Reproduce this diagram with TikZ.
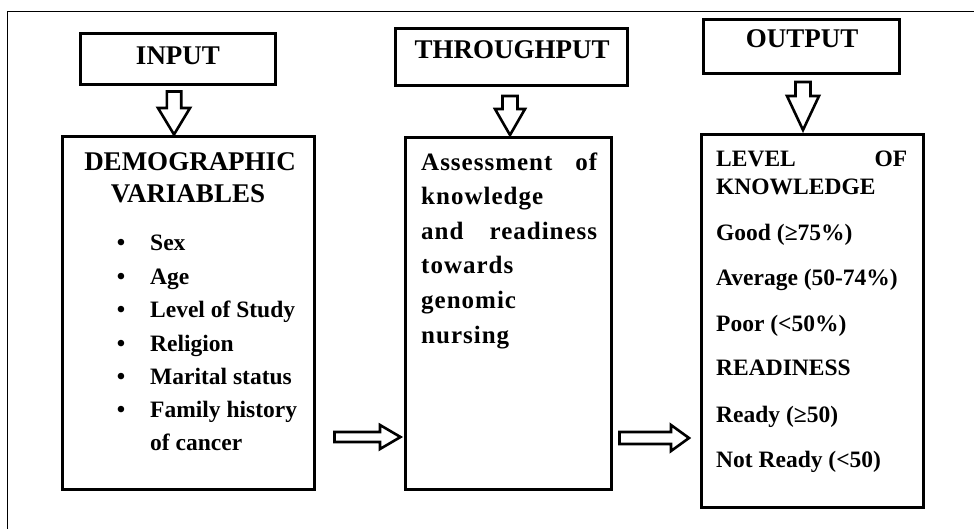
\documentclass[tikz,border=0pt]{standalone}
\usepackage{fontspec}
\setmainfont{Liberation Serif}
\newfontfamily\spacedfont{Liberation Serif}[LetterSpace=4]
\newcommand{\vblockarrow}[6]{% cx, ytop, yhead, ytip, shaft half, head half
  \draw[blockarrow] (#1-#5,#2) -- (#1+#5,#2) -- (#1+#5,#3) -- (#1+#6,#3) -- (#1,#4) -- (#1-#6,#3) -- (#1-#5,#3) -- cycle;}
\newcommand{\hblockarrow}[6]{% cy, xleft, xhead, xtip, shaft half, head half
  \draw[blockarrow] (#2,#1-#5) -- (#3,#1-#5) -- (#3,#1-#6) -- (#4,#1) -- (#3,#1+#6) -- (#3,#1+#5) -- (#2,#1+#5) -- cycle;}
\begin{document}
\begin{tikzpicture}[x=1pt,y=-1pt,
  box/.style={draw, line width=2.6pt, inner sep=0pt},
  headtxt/.style={inner sep=0pt, font=\fontsize{27}{32}\selectfont\bfseries},
  bodytxt/.style={anchor=base west, inner sep=0pt, font=\fontsize{23.5}{28}\selectfont\bfseries},
  midtxt/.style={anchor=base west, inner sep=0pt, font=\spacedfont\fontsize{25}{30}\selectfont\bfseries},
  bullettxt/.style={anchor=base, inner sep=0pt, font=\fontsize{24}{28}\selectfont\bfseries},
  blockarrow/.style={draw, line width=2.6pt, fill=white, line join=miter, miter limit=10},
]
\useasboundingbox (0,0) rectangle (974,528);
% outer frame
\draw[line width=1.4pt] (7.5,530) -- (7.5,11.5) -- (976,11.5);

% header boxes
\node[box, minimum width=195pt, minimum height=51pt] (inbox) at (178,59) {};
\node[headtxt] (intxt) at (178,56) {INPUT};
\node[box, minimum width=232pt, minimum height=57pt] (thbox) at (511.5,57) {};
\node[headtxt] (thtxt) at (512,50) {THROUGHPUT};
\node[box, minimum width=196pt, minimum height=54pt] (outbox) at (801.5,46.5) {};
\node[headtxt] (outtxt) at (802,39) {OUTPUT};

% main boxes
\node[box, minimum width=252pt, minimum height=353pt] (demo) at (188.5,313) {};
\node[box, minimum width=206pt, minimum height=352pt] (assess) at (508.5,313.5) {};
\node[box, minimum width=222pt, minimum height=373pt] (level) at (812.5,321) {};

% down arrows
\vblockarrow{174}{91.5}{108}{134.5}{7.2}{16}
\vblockarrow{510}{96}{109}{135}{7.5}{15}
\vblockarrow{803}{82}{96}{130}{7.5}{16}

% right arrows
\hblockarrow{437}{334.5}{380}{400.5}{5}{12}
\hblockarrow{438}{619.5}{671}{689}{6}{13}

% input box text
\node[headtxt, anchor=base] (demoh1) at (190,170) {DEMOGRAPHIC};
\node[headtxt, anchor=base] (demoh2) at (188,202) {VARIABLES};
\foreach \yy/\tt/\nm in {250/Sex/v1, 284/Age/v2, 317/Level of Study/v3, 351/Religion/v4, 384/Marital status/v5, 417/Family history/v6}{
  \node[bullettxt] (b\nm) at (121,\yy) {\textbullet};
  \node[bodytxt] (\nm) at (150,\yy) {\tt};
}
\node[bodytxt] (v7) at (150,450) {of cancer};

% throughput box text
\node[midtxt] (m1) at (421,170) {\makebox[176pt][s]{Assessment\hfill of}};
\node[midtxt] (m2) at (421,204) {knowledge};
\node[midtxt] (m3) at (421,239) {\makebox[176pt][s]{and\hfill readiness}};
\node[midtxt] (m4) at (421,273) {towards};
\node[midtxt] (m5) at (421,308) {genomic};
\node[midtxt] (m6) at (421,343) {nursing};

% output box text
\node[bodytxt] (o1) at (716,166) {\makebox[191pt][s]{LEVEL\hfill OF}};
\node[bodytxt] (o2) at (716,194) {KNOWLEDGE};
\node[bodytxt] (o3) at (716,240) {Good (≥75\%)};
\node[bodytxt] (o4) at (716,285) {Average (50-74\%)};
\node[bodytxt] (o5) at (716,331) {Poor (<50\%)};
\node[bodytxt] (o6) at (716,375) {READINESS};
\node[bodytxt] (o7) at (716,422) {Ready (≥50)};
\node[bodytxt] (o8) at (716,467) {Not Ready (<50)};
\end{tikzpicture}
\end{document}
